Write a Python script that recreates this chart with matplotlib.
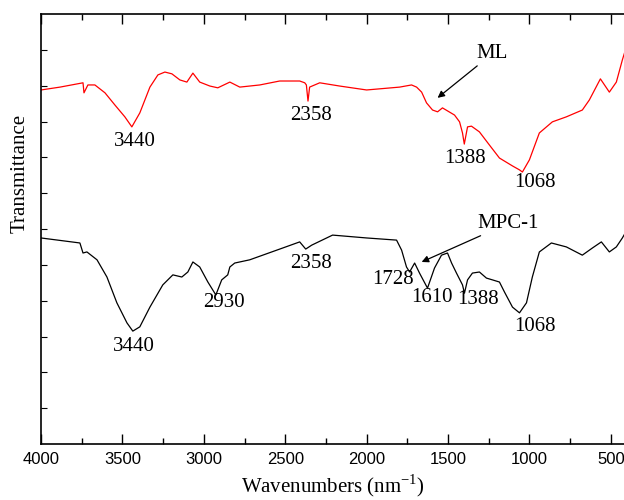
import matplotlib
matplotlib.use("Agg")
import matplotlib.pyplot as plt

plt.rcParams["mathtext.fontset"] = "custom"
plt.rcParams["mathtext.rm"] = "Liberation Serif"

# ML spectrum (red), wavenumber vs transmittance (arb. units)
ml_wn = [4000, 3883, 3742, 3736, 3712, 3669, 3607, 3546, 3485, 3442, 3393, 3331,
         3282, 3239, 3196, 3147, 3104, 3067, 3025, 2963, 2914, 2840, 2779, 2656,
         2534, 2411, 2380, 2370, 2360, 2350, 2288, 2166, 2000, 1797, 1724, 1693,
         1662, 1632, 1595, 1564, 1534, 1460, 1429, 1411, 1400, 1380, 1356, 1307,
         1245, 1184, 1104, 1061, 1043, 1000, 939, 859, 773, 675, 632, 564, 509,
         466, 429, 410]
ml_t = [9.88, 9.96, 10.08, 9.80, 10.02, 10.02, 9.80, 9.46, 9.13, 8.85, 9.24, 9.96,
        10.30, 10.38, 10.33, 10.16, 10.10, 10.35, 10.10, 9.99, 9.94, 10.10, 9.96, 10.02,
        10.13, 10.13, 10.08, 10.02, 9.57, 9.96, 10.08, 9.99, 9.88, 9.96, 10.02, 9.96,
        9.82, 9.52, 9.32, 9.27, 9.38, 9.18, 8.99, 8.68, 8.37, 8.85, 8.87, 8.71,
        8.34, 7.98, 7.76, 7.65, 7.59, 7.93, 8.68, 8.99, 9.13, 9.32, 9.60, 10.19, 9.82,
        10.10, 10.72, 11.0]

# MPC-1 spectrum (black)
mpc_wn = [4000, 3761, 3742, 3718, 3656, 3595, 3534, 3472, 3436, 3393, 3331, 3252,
          3190, 3135, 3098, 3067, 3025, 2975, 2926, 2890, 2853, 2840, 2810, 2718,
          2515, 2411, 2374, 2337, 2209, 2000, 1816, 1785, 1755, 1736, 1705, 1675,
          1626, 1583, 1540, 1503, 1478, 1448, 1411, 1399, 1380, 1350, 1307, 1264,
          1227, 1184, 1153, 1104, 1061, 1018, 982, 939, 865, 773, 675, 613, 558,
          509, 466, 429, 410]
mpc_t = [5.75, 5.61, 5.33, 5.36, 5.14, 4.66, 3.94, 3.38, 3.15, 3.27, 3.82, 4.44,
         4.72, 4.66, 4.80, 5.08, 4.94, 4.52, 4.16, 4.58, 4.72, 4.94, 5.05, 5.14,
         5.47, 5.64, 5.44, 5.55, 5.83, 5.75, 5.69, 5.41, 4.94, 4.80, 5.05, 4.77,
         4.35, 4.91, 5.27, 5.33, 5.05, 4.77, 4.44, 4.21, 4.58, 4.77, 4.80, 4.63,
         4.58, 4.52, 4.24, 3.82, 3.66, 3.94, 4.66, 5.36, 5.61, 5.50, 5.27, 5.47, 5.64,
         5.36, 5.50, 5.75, 5.9]

# peak labels: (text, wavenumber, transmittance)
ml_peaks = [("3440", 3423, 8.43), ("2358", 2344, 9.18),
            ("1388", 1393, 7.98), ("1068", 969, 7.31)]
mpc_peaks = [("3440", 3429, 2.71), ("2930", 2877, 3.94), ("2358", 2344, 5.05),
             ("1728", 1840, 4.58), ("1610", 1601, 4.10), ("1388", 1313, 4.02),
             ("1068", 969, 3.27)]

serif = "Liberation Serif"

fig = plt.figure(figsize=(6.24, 5.0), dpi=100)
ax = fig.add_axes([41 / 624, 56 / 500, 1 - 41 / 624, 430 / 500])

ax.plot(ml_wn, ml_t, color="red", lw=0.9)
ax.plot(mpc_wn, mpc_t, color="black", lw=0.9)

ax.set_xlim(4000, 419)
ax.set_ylim(0, 12)

for lab, x, y in ml_peaks + mpc_peaks:
    ax.text(x, y, lab, ha="center", va="center", fontsize=15, family=serif)

ax.annotate("ML", xy=(1564, 9.66), xytext=(1227, 10.63),
            ha="center", va="bottom", fontsize=15, family=serif,
            arrowprops=dict(arrowstyle="-|>", color="black", lw=0.9,
                            mutation_scale=10, shrinkA=0, shrinkB=0))
ax.annotate("MPC-1", xy=(1662, 5.08), xytext=(1319, 5.89),
            ha="left", va="bottom", fontsize=15, family=serif,
            arrowprops=dict(arrowstyle="-|>", color="black", lw=0.9,
                            mutation_scale=10, shrinkA=0, shrinkB=0))

ax.set_xticks([4000, 3500, 3000, 2500, 2000, 1500, 1000, 500])
ax.set_xticks([3750, 3250, 2750, 2250, 1750, 1250, 750], minor=True)
ax.set_yticks(range(1, 12))
ax.set_yticklabels([])
ax.tick_params(axis="x", which="major", direction="in", length=7, width=1,
               top=True, labelsize=12, pad=6)
ax.tick_params(axis="x", which="minor", direction="in", length=4, width=1, top=True)
ax.tick_params(axis="y", which="major", direction="in", length=4, width=0.8,
               right=False)
for lab in ax.get_xticklabels():
    lab.set_family("Liberation Sans")

ax.spines["right"].set_visible(False)
for s in ["left", "bottom", "top"]:
    ax.spines[s].set_linewidth(1.2)

fig.text(333 / 624, 1 - 486 / 500, r"Wavenumbers (nm$^{\mathregular{-1}}$)",
         ha="center", va="center", fontsize=15, family=serif)
fig.text(20 / 624, 1 - 173 / 500, "Transmittance", rotation=90, ha="center", va="center",
         fontsize=15, family=serif)

fig.savefig("out.png", dpi=100)
